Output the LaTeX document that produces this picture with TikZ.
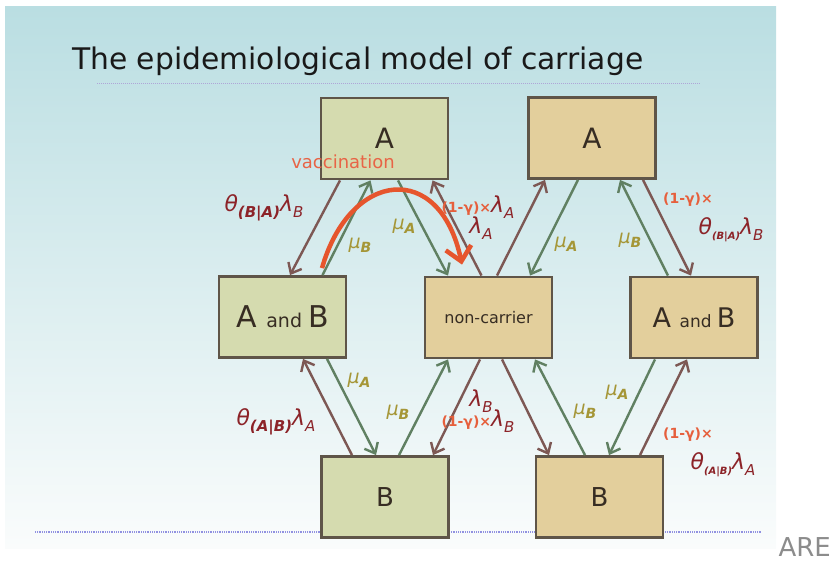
\documentclass[tikz,border=0pt]{standalone}
\usepackage{fontspec}
\setmainfont{DejaVu Sans}
\usetikzlibrary{arrows.meta}
\definecolor{bgtop}{RGB}{186,222,226}
\definecolor{bgmid}{RGB}{214,235,238}
\definecolor{bgbot}{RGB}{250,252,252}
\definecolor{boxgreen}{RGB}{213,219,175}
\definecolor{boxtan}{RGB}{227,207,156}
\definecolor{boxedge}{RGB}{95,85,72}
\definecolor{arrbrown}{RGB}{125,88,84}
\definecolor{arrgreen}{RGB}{96,128,98}
\definecolor{vacccol}{RGB}{230,85,45}
\definecolor{vacctxt}{RGB}{232,100,70}
\definecolor{rateRed}{RGB}{140,35,40}
\definecolor{gammaOr}{RGB}{230,95,60}
\definecolor{muOl}{RGB}{165,150,55}
\definecolor{txt}{RGB}{55,45,35}
\definecolor{titlecol}{RGB}{25,25,25}
\definecolor{dotpurple}{RGB}{175,165,215}
\definecolor{dotblue}{RGB}{145,145,225}
\definecolor{aregray}{RGB}{140,140,140}
\newcommand{\subsc}[3]{\raisebox{-#1pt}{\fontsize{#2}{#2}\selectfont #3}}
\begin{document}
\begin{tikzpicture}[x=1pt,y=-1pt,
  box/.style={draw=boxedge, line width=2.8pt, minimum width=127pt, minimum height=81pt, inner sep=0pt, text=txt},
  gbox/.style={box, fill=boxgreen},
  tbox/.style={box, fill=boxtan},
  arrB/.style={draw=arrbrown, line width=2.4pt, -{Straight Barb[length=9pt,width=15pt,line width=2.4pt]}},
  arrG/.style={draw=arrgreen, line width=2.4pt, -{Straight Barb[length=9pt,width=15pt,line width=2.4pt]}},
  vaccarr/.style={draw=vacccol, line width=4.5pt, -{Straight Barb[length=14pt,width=26pt,line width=4.5pt]}},
  rate/.style={text=rateRed, inner sep=0pt, font=\fontsize{22}{24}\selectfont\itshape},
  gam/.style={text=gammaOr, inner sep=0pt, font=\fontsize{14}{15}\selectfont\bfseries},
  mu/.style={text=muOl, inner sep=0pt, font=\fontsize{19}{20}\selectfont\itshape}
]
\useasboundingbox (0,0) rectangle (834,561);
% background
\shade[top color=bgtop, middle color=bgmid, bottom color=bgbot] (5,7) rectangle (776,548);
% title
\node[anchor=base west, inner sep=0pt, text=titlecol] (title) at (72,70)
  {\resizebox{571pt}{!}{\fontsize{27}{30}\selectfont The epidemiological model of carriage}};
\draw[dotpurple, line width=1pt, dash pattern=on 1pt off 1pt] (97,84) -- (700,84);
\draw[dotblue, line width=2pt, dash pattern=on 1pt off 0.8pt] (35,532) -- (762,532);
\node[anchor=base east, inner sep=0pt, text=aregray, font=\fontsize{26}{28}\selectfont] (are) at (831,556) {ARE};
% boxes
\node[gbox] (LA) at (384.5,138.5) {\fontsize{28}{30}\selectfont A};
\node[gbox] (LAB) at (282.5,317) {\fontsize{30}{32}\selectfont A \fontsize{19}{20}\selectfont and \fontsize{30}{32}\selectfont B};
\node[gbox] (LB) at (385,497) {\fontsize{26}{28}\selectfont B};
\node[tbox] (NC) at (488.5,317.5) {\fontsize{16}{18}\selectfont non-carrier};
\node[tbox] (RA) at (592,138) {\fontsize{28}{30}\selectfont A};
\node[tbox] (RAB) at (694,317.5) {\fontsize{27}{30}\selectfont A \fontsize{17}{18}\selectfont and \fontsize{27}{30}\selectfont B};
\node[tbox] (RB) at (599.5,497) {\fontsize{26}{28}\selectfont B};
% upper left diamond
\draw[arrB] ([xshift=-44.5pt]LA.south) -- ([xshift=7.5pt]LAB.north);
\draw[arrG] ([xshift=40pt]LAB.north) -- ([xshift=-14pt]LA.south);
\draw[arrG] ([xshift=13.5pt]LA.south) -- ([xshift=-40.5pt]NC.north);
\draw[arrB] ([xshift=-7pt]NC.north) -- ([xshift=48pt]LA.south);
% upper right diamond
\draw[arrB] ([xshift=8.5pt]NC.north) -- ([xshift=-47pt]RA.south);
\draw[arrG] ([xshift=-14pt]RA.south) -- ([xshift=41.5pt]NC.north);
\draw[arrG] ([xshift=-26pt]RAB.north) -- ([xshift=28pt]RA.south);
\draw[arrB] ([xshift=51pt]RA.south) -- ([xshift=-3pt]RAB.north);
% lower left diamond
\draw[arrB] ([xshift=-33pt]LB.north) -- ([xshift=20.5pt]LAB.south);
\draw[arrG] ([xshift=44.5pt]LAB.south) -- ([xshift=-9pt]LB.north);
\draw[arrG] ([xshift=14pt]LB.north) -- ([xshift=-40.5pt]NC.south);
\draw[arrB] ([xshift=-8.5pt]NC.south) -- ([xshift=48pt]LB.north);
% lower right diamond
\draw[arrB] ([xshift=13.5pt]NC.south) -- ([xshift=-50.5pt]RB.north);
\draw[arrG] ([xshift=-14.5pt]RB.north) -- ([xshift=46.5pt]NC.south);
\draw[arrG] ([xshift=-39pt]RAB.south) -- ([xshift=9.5pt]RB.north);
\draw[arrB] ([xshift=40.5pt]RB.north) -- ([xshift=-7pt]RAB.south);
% labels upper left
\node[rate] (l1) at (264,208) {θ\subsc{6}{15}{\bfseries (B|A)}λ\subsc{6}{15}{B}};
\node[mu] (m1) at (360,245) {μ\subsc{4}{14}{\bfseries B}};
\node[mu] (m2) at (404,226) {μ\subsc{4}{14}{\bfseries A}};
\node[inner sep=0pt] (g1) at (478,207) {{\color{gammaOr}\fontsize{14}{15}\selectfont\bfseries (1-γ)×}{\color{rateRed}\fontsize{22}{24}\selectfont\itshape λ\subsc{6}{15}{A}}};
\node[rate] (l2) at (481,228) {λ\subsc{6}{15}{A}};
% labels upper right
\node[mu] (m3) at (566,244) {μ\subsc{4}{14}{\bfseries A}};
\node[mu] (m4) at (630,240) {μ\subsc{4}{14}{\bfseries B}};
\node[gam] (g2) at (688,200) {(1-γ)×};
\node[rate] (l3) at (731,230) {θ\subsc{5}{10}{\bfseries (B|A)}λ\subsc{6}{15}{B}};
% labels lower left
\node[rate] (l4) at (276,422) {θ\subsc{6}{15}{\bfseries (A|B)}λ\subsc{6}{15}{A}};
\node[mu] (m5) at (359,380) {μ\subsc{4}{14}{\bfseries A}};
\node[mu] (m6) at (398,412) {μ\subsc{4}{14}{\bfseries B}};
\node[rate] (l5) at (481,401) {λ\subsc{6}{15}{B}};
\node[inner sep=0pt] (g3) at (478,421) {{\color{gammaOr}\fontsize{14}{15}\selectfont\bfseries (1-γ)×}{\color{rateRed}\fontsize{22}{24}\selectfont\itshape λ\subsc{6}{15}{B}}};
% labels lower right
\node[mu] (m7) at (585,411) {μ\subsc{4}{14}{\bfseries B}};
\node[mu] (m8) at (617,392) {μ\subsc{4}{14}{\bfseries A}};
\node[gam] (g4) at (688,435) {(1-γ)×};
\node[rate] (l6) at (723,465) {θ\subsc{5}{10}{\bfseries (A|B)}λ\subsc{6}{15}{A}};
% vaccination
\coordinate (vs) at ([xshift=39.5pt,yshift=7pt]LAB.north);
\coordinate (ve) at ([xshift=-26.5pt,yshift=11pt]NC.north);
\draw[vaccarr] (vs) .. controls (350,170) and (440,160) .. (ve);
\node[text=vacctxt, inner sep=0pt, font=\fontsize{18}{20}\selectfont] (vac) at (343,162) {vaccination};
\end{tikzpicture}
\end{document}
